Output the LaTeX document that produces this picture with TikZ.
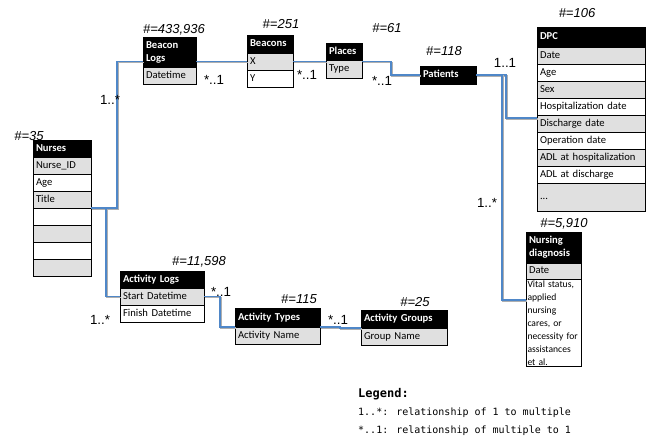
\documentclass[tikz,border=0pt]{standalone}
\usepackage{fontspec}
\setmainfont{Carlito}
\newfontfamily\lblfont{Liberation Sans}
\newfontfamily\lgdfont{DejaVu Sans Mono}
\usetikzlibrary{positioning,calc}
\definecolor{erlink}{RGB}{79,135,200}
\definecolor{errow}{RGB}{224,224,224}
\definecolor{ershade}{RGB}{175,175,175}
\newcommand\erfont{\fontsize{10.6}{13}\selectfont}
\tikzset{
  erbox/.style={
    draw=black, line width=0.7pt, inner xsep=3pt, inner ysep=0pt,
    outer sep=0pt, align=left, font=\erfont
  },
  hd/.style={erbox, fill=black, text=white, font=\erfont\bfseries,
    minimum height=17pt, text height=7.6pt, text depth=2.4pt},
  hdtwo/.style={erbox, fill=black, text=white, font=\erfont\bfseries,
    minimum height=30pt},
  rg/.style={erbox, fill=errow, minimum height=17pt,
    text height=7.6pt, text depth=2.4pt},
  rw/.style={rg, fill=white},
  rwtall/.style={erbox, fill=white, inner ysep=1.5pt, inner xsep=1.5pt,
    font=\fontsize{9.6}{13}\selectfont},
  cnt/.style={font=\lblfont\itshape\fontsize{13}{15}\selectfont,
    anchor=base, inner sep=0pt},
  card/.style={font=\lblfont\fontsize{13.3}{15}\selectfont,
    anchor=base, inner sep=0pt},
  link/.style={draw=erlink, line width=1.3pt,
    preaction={draw=ershade, line width=1.3pt,
      transform canvas={shift={(1pt,-1pt)}}}},
  lgd/.style={font=\lgdfont\fontsize{10}{12}\selectfont,
    anchor=base west, inner sep=0pt}
}

\begin{document}
\begin{tikzpicture}[x=1pt,y=-1pt]
  \useasboundingbox (0,0) rectangle (648,439);

  % Nurses
  \begin{scope}[every node/.append style={text width=52pt}]
    \node[hd, anchor=north west] (nurHead) at (33,140) {Nurses};
    \node[rg, below=0pt of nurHead] (nurId) {Nurse\_ID};
    \node[rw, below=0pt of nurId] (nurAge) {Age};
    \node[rg, below=0pt of nurAge] (nurTitle) {Title};
    \node[rw, below=0pt of nurTitle] (nurB1) {};
    \node[rg, below=0pt of nurB1] (nurB2) {};
    \node[rw, below=0pt of nurB2] (nurB3) {};
    \node[rg, below=0pt of nurB3] (nurB4) {};
  \end{scope}

  % Beacon Logs, Beacons, Places, Patients
  \begin{scope}[every node/.append style={text width=47pt}]
    \node[hdtwo, anchor=north west] (bclHead) at (143,37) {Beacon\\Logs};
    \node[rg, below=0pt of bclHead] (bclTime) {Datetime};
  \end{scope}
  \begin{scope}[every node/.append style={text width=40pt}]
    \node[hd, minimum height=18pt, anchor=north west] (bcnHead) at (247,35) {Beacons};
    \node[rg, below=0pt of bcnHead] (bcnX) {X};
    \node[rw, below=0pt of bcnX] (bcnY) {Y};
  \end{scope}
  \begin{scope}[every node/.append style={text width=30pt}]
    \node[hd, anchor=north west] (plcHead) at (326,43) {Places};
    \node[rg, minimum height=18pt, below=0pt of plcHead] (plcType) {Type};
  \end{scope}
  \node[hd, text width=50pt, minimum height=18pt, anchor=north west] (patHead) at (420,66) {Patients};

  % DPC
  \begin{scope}[every node/.append style={text width=102pt}]
    \node[hd, minimum height=20pt, anchor=north west] (dpcHead) at (537,27) {DPC};
    \node[rg, below=0pt of dpcHead] (dpcDate) {Date};
    \node[rw, below=0pt of dpcDate] (dpcAge) {Age};
    \node[rg, below=0pt of dpcAge] (dpcSex) {Sex};
    \node[rw, below=0pt of dpcSex] (dpcHosp) {Hospitalization date};
    \node[rg, below=0pt of dpcHosp] (dpcDis) {Discharge date};
    \node[rw, below=0pt of dpcDis] (dpcOp) {Operation date};
    \node[rg, below=0pt of dpcOp] (dpcAdlH) {ADL at hospitalization};
    \node[rw, below=0pt of dpcAdlH] (dpcAdlD) {ADL at discharge};
    \node[rg, minimum height=28pt, below=0pt of dpcAdlD] (dpcMore) {...};
  \end{scope}

  % Nursing diagnosis
  \begin{scope}[every node/.append style={text width=49pt}]
    \node[hdtwo, minimum height=31pt, anchor=north west] (ndHead) at (526,232) {Nursing\\diagnosis};
    \node[rg, minimum height=16pt, below=0pt of ndHead] (ndDate) {Date};
  \end{scope}
  \node[rwtall, text width=52pt, below=0pt of ndDate] (ndText) {Vital status,\\applied\\nursing\\cares, or\\necessity~for\\assistances\\et al.};

  % Activity tables
  \begin{scope}[every node/.append style={text width=78pt}]
    \node[hd, anchor=north west] (alsHead) at (120,271) {Activity Logs};
    \node[rg, below=0pt of alsHead] (alsStart) {Start Datetime};
    \node[rw, below=0pt of alsStart] (alsFin) {Finish Datetime};
  \end{scope}
  \begin{scope}[every node/.append style={text width=79pt}]
    \node[hd, minimum height=19pt, anchor=north west] (atyHead) at (235,308) {Activity Types};
    \node[rg, below=0pt of atyHead] (atyName) {Activity Name};
  \end{scope}
  \begin{scope}[every node/.append style={text width=80pt}]
    \node[hd, minimum height=18pt, anchor=north west] (agrHead) at (361,310) {Activity Groups};
    \node[rg, below=0pt of agrHead] (agrName) {Group Name};
  \end{scope}

  % Record counts
  \node[cnt] (nurCnt) at (29,140) {\#=35};
  \node[cnt] (bclCnt) at (174,33) {\#=433,936};
  \node[cnt] (bcnCnt) at (281,28) {\#=251};
  \node[cnt] (plcCnt) at (387,32) {\#=61};
  \node[cnt] (patCnt) at (444,55) {\#=118};
  \node[cnt] (dpcCnt) at (577,17) {\#=106};
  \node[cnt] (ndCnt) at (564,227) {\#=5,910};
  \node[cnt] (alsCnt) at (199,265) {\#=11,598};
  \node[cnt] (atyCnt) at (299,303) {\#=115};
  \node[cnt] (agrCnt) at (415,306) {\#=25};

  % Relations
  \coordinate (nurJoin) at ([xshift=15pt]nurTitle.south east);
  \draw[link] (nurTitle.south east) -- ++(26,0) |- (bclHead.west |- bcnX.west);
  \draw[link] (nurJoin) |- (alsStart.west);
  \draw[link] (bclHead.east |- bcnX.west) -- (bcnX.west);
  \draw[link] (bcnX.east) -- (plcHead.west |- bcnX.east);
  \draw[link] (plcHead.east |- bcnX.east) -- ++(29,0) |- (patHead.west);
  \draw[link] (patHead.east) -- ++(30,0) |- ([yshift=-3pt]dpcDis.north west);
  \draw[link] (patHead.east) -- ++(26,0) |- ([yshift=-21pt]ndText.north west);
  \draw[link] (alsStart.east) -- ++(16,0) |- (atyName.north west);
  \draw[link] (atyName.north east) -- ++(20,0) |- (agrName.north west);

  \node[card] (cBcl) at (110,104) {1..*};
  \node[card] (cBcn) at (214,84) {*..1};
  \node[card] (cPlc) at (307,79) {*..1};
  \node[card] (cPat) at (382,85) {*..1};
  \node[card] (cDpc) at (505,67) {1..1};
  \node[card] (cNd) at (487,207) {1..*};
  \node[card] (cAls) at (100,324) {1..*};
  \node[card] (cAty) at (221,296) {*..1};
  \node[card] (cAgr) at (338,324) {*..1};

  % Legend
  \node[lgd, font=\lgdfont\bfseries\fontsize{12}{14}\selectfont] (lgdHead) at (358,397) {Legend:};
  \node[lgd] (lgdOne) at ([yshift=-18pt]lgdHead.base west) {1..*: relationship of 1 to multiple};
  \node[lgd] (lgdMany) at ([yshift=-18pt]lgdOne.base west) {*..1: relationship of multiple to 1};
\end{tikzpicture}
\end{document}
